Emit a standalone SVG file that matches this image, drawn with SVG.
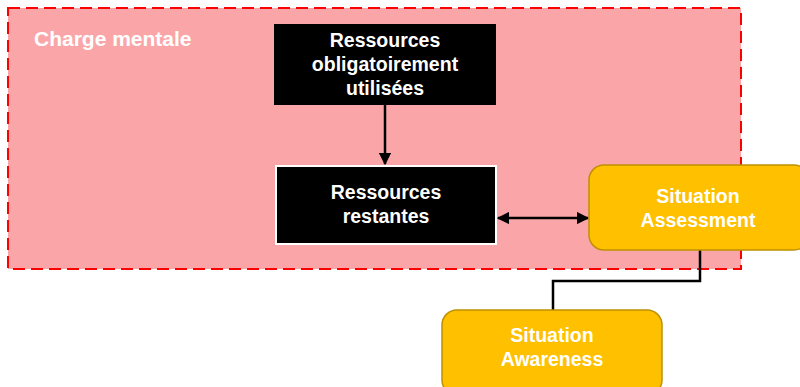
<svg xmlns="http://www.w3.org/2000/svg" width="800" height="387" viewBox="0 0 800 387">
<style>
.t{font-family:"Liberation Sans",Arial,sans-serif;font-weight:bold;fill:#fff;text-anchor:middle;font-size:19.5px}
.yb{fill:#FFC000;stroke:#BF9000;stroke-width:1.5}
.ln{fill:none;stroke:#000;stroke-width:2.5}
</style>
<defs>
<marker id="ah" viewBox="0 0 10 10" refX="9" refY="5" markerWidth="5" markerHeight="5" orient="auto-start-reverse">
<path d="M0,0 L10,5 L0,10 z" fill="#000"/>
</marker>
</defs>
<rect width="800" height="387" fill="#fff"/>
<g id="charge-mentale">
<rect x="8" y="8" width="733" height="261" fill="#FAA6A8" stroke="#FF0000" stroke-width="2" stroke-dasharray="12,6"/>
<text x="34" y="46" style="font-family:'Liberation Sans',Arial,sans-serif;font-weight:bold;fill:#fff;font-size:21px">Charge mentale</text>
</g>
<g id="connectors">
<line class="ln" x1="385" y1="105" x2="385" y2="164" marker-end="url(#ah)"/>
<line class="ln" x1="498" y1="218" x2="588" y2="218" marker-start="url(#ah)" marker-end="url(#ah)"/>
<polyline class="ln" points="700,250 700,281 553,281 553,310"/>
</g>
<g id="ressources-obligatoires">
<rect x="274" y="24" width="222" height="81" fill="#000"/>
<text class="t" x="385" y="47">Ressources</text>
<text class="t" x="385" y="71">obligatoirement</text>
<text class="t" x="385" y="95">utilisées</text>
</g>
<g id="ressources-restantes">
<rect x="276" y="166" width="220" height="78" fill="#000" stroke="#fff" stroke-width="2"/>
<text class="t" x="386" y="199">Ressources</text>
<text class="t" x="386" y="223">restantes</text>
</g>
<g id="situation-assessment">
<rect class="yb" x="589" y="165" width="220" height="85" rx="15"/>
<text class="t" x="698" y="203">Situation</text>
<text class="t" x="698" y="227">Assessment</text>
</g>
<g id="situation-awareness">
<rect class="yb" x="442" y="310" width="220" height="85" rx="15"/>
<text class="t" x="552" y="342">Situation</text>
<text class="t" x="552" y="366">Awareness</text>
</g>
</svg>
